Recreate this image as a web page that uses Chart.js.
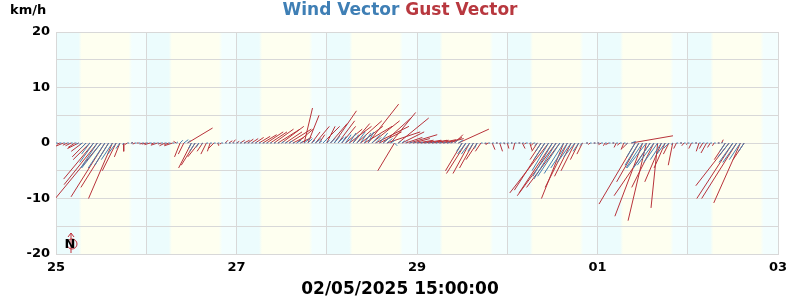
<!DOCTYPE html>
<html>
<head>
<meta charset="utf-8">
<script src="https://cdn.jsdelivr.net/npm/chart.js@4"></script>
<style>
  body { margin: 0; background: #fff; }
  canvas { display: block; }
</style>
</head>
<body>
<canvas id="windChart" width="800" height="300"></canvas>
<script>
// hourly samples starting 25/04 00:00, vector components in km/h
const dayLabels = ['25', '26', '27', '28', '29', '30', '01', '02', '03'];
const yTicks = [-20, -10, 0, 10, 20];
const sunriseHour = 6.4;
const sunsetHour = 19.7;

const windU = [
  0.3, 0.3, 0.3, 0.3, 0.3, 0.3, -0.3, -0.5, -1, -1.5, -2.5, -3, -3.5, -3, -2.5, -2, -1.5, -0.7, -0.2, 0.3, 0.3, 0.3, 0.3, 0.3,
  0.3, 0.3, 0.3, 0.3, 0.3, 0.3, 0.3, 0.3, 0.3, 0.5, 0.8, 0.5, -0.5, -1, -0.5, -0.3, 0.3, 0.3, 0.3, 0.3, 0.3, 0.3, 0.3, 0.3,
  0.3, 0.3, 0.3, 0.3, 0.3, 0.3, 0.3, 0.3, 0.3, 0.3, 0.3, 0.3, 0.5, 0.4, 0.6, 0.3, 0.8, 0.5, 1, 0.8, 0.6, 1, 0.5, 0.8,
  0.5, 0.8, 1, 1, 0.8, 1, 1.2, 1, 1.5, 1, 1.2, 1, 1.5, 1, 1.5, 1.2, 1, 0.8, 0.5, 0.5, 0.5, 0.3, 0.5, 0.4,
  0.4, 0.4, 0.4, 0.4, 0.4, 0.4, 0.4, 0.4, 0.4, 0.3, 0.5, 0.8, -1, -1.5, -1.5, -1, -0.5, 0.3, 0.3, 0.3, 0.3, 0.3, 0.3, 0.3,
  0.3, 0.3, 0.3, 0.3, 0.3, 0.3, 0.3, 0.3, -0.5, -1, -2, -3, -3.5, -4, -4, -3.5, -3, -2.5, -2, -1, -0.5, 0.3, 0.3, 0.3,
  0.3, 0.3, 0.3, 0.3, 0.3, 0.3, 0.3, 0.3, -0.3, 0.8, -1.5, -2.5, -3, -3.5, -3, -3, -2.5, -2, -1.5, -1, -0.3, 0.3, 0.3, 0.3,
  0.3, 0.3, 0.3, 0.3, 0.3, 0.3, 0.3, 0.3, 0.3, 0.2, -1, -2, -2.5, -2.5, -2, -1
];
const windV = [
  0, 0, 0, 0, 0, 0, -0.2, -0.3, -1, -2, -3.5, -4.5, -4.5, -4.5, -4, -3, -2, -1, -0.3, 0, 0, 0, 0, 0,
  0, 0, 0, 0, 0, 0, 0, 0, 0.2, 0.5, 0.6, 0.5, -1, -1.5, -0.8, -0.3, 0, 0, 0, 0, 0, 0, 0, 0,
  0.05, 0.05, 0.05, 0.05, 0.05, 0.05, 0.05, 0.05, 0.05, 0.05, 0.05, 0.05, 0.3, 0.2, 0.4, 0.1, 0.5, 0.3, 0.8, 0.8, 0.5, 0.8, 0.4, 0.8,
  0.5, 0.8, 1.2, 1, 1.2, 1.5, 1.8, 1.5, 2, 1.5, 1.8, 2, 1.5, 1, 1.8, 1, 0.8, 0.5, -0.5, 0.3, 0.4, 0.3, 0.2, 0.2,
  0.1, 0.1, 0.1, 0.1, 0.1, 0.1, 0.1, 0.1, 0.1, 0.2, 0.5, 0.5, -1.5, -2, -2, -1.5, -1, 0, 0, 0, 0, 0, 0, 0,
  0, 0, 0, 0, 0, 0, 0, 0, -0.5, -1.5, -3, -5, -6, -6.5, -6, -5.5, -4.5, -3.5, -2.5, -1.5, -0.5, 0, 0, 0,
  0, 0, 0, 0, 0, 0, 0, 0, -0.3, 0.3, -2.5, -4, -4.5, -4.5, -4.5, -4, -3.5, -3, -2, -1, -0.3, 0, 0, 0,
  0, 0, 0, 0, 0, 0, 0, 0, 0, 0.1, -1.5, -2.5, -3.5, -3.5, -3, -1.5
];
const gustU = [
  -1, -0.5, -1.5, -0.8, -1, -1.2, -2, -2, -2.5, -3, -5.4, -6, -8.5, -6.1, -5, -4.3, -2.5, -1, 0, -0.5, 0.3, -0.4, -0.3, -0.5,
  -0.8, -1, -0.5, -1.2, -0.6, -1, -0.8, -1.5, -0.5, -1, -1, 4.5, -2.3, -2.5, -2, -1, -1, -0.5, -1, 0.2, -0.3, 0.5, 0.6, 0.5,
  0.5, 0.8, 1, 1, 1.2, 1.5, 2, 2.5, 3, 3, 3.5, 4, 4, 3, 4, 2, 3, 2, 1.5, 2, 1.5, 2.5, 1, 3,
  1.5, 3, 4, 3, 2.5, 3, 4, 3, 4.5, 4, 5, 5.5, 5, 6, 4, 5, 6, 4.5, -3, 5.5, 4, 3, 5, 3,
  3, 2, 3, 2.5, 3, 2, 3, 2.5, 3, 2, 1.5, 5.5, -3, -3.5, -3, -2.5, -2, -1, 0.3, -0.5, 0.5, 0.3, 0.5, 0.3,
  0.3, 0.2, -0.3, 0.3, 0.5, -0.3, 0.4, -0.5, -1, -2, -5.5, -7, -6, -7, -6, -4, -4, -3, -2.5, -1.5, -1, 0.3, -0.3, 0.3,
  0.3, -0.5, -0.3, -0.6, 0.3, -0.4, -0.5, -0.5, -1, 7.5, -6.5, -4, -5, -3.3, -6.5, -4, -1.2, -3, -2, -1, -0.8, -0.5, 0.3, -0.4,
  -0.3, -0.5, 0.3, -0.5, -0.6, -1, -0.5, -0.3, 0.3, 0.3, -2, -6, -6.5, -6.3, -4.8, -2
];
const gustV = [
  -0.3, -0.2, -0.6, -0.4, -0.5, -0.8, -1, -1.5, -2.5, -3, -6.5, -7.5, -10.3, -9.7, -8, -10, -5, -2.5, -1.5, -0.3, 0.1, -0.2, 0, -0.2,
  -0.2, -0.3, -0.2, -0.4, -0.2, -0.5, -0.3, -0.5, 0.3, -2.5, -2, 2.7, -4.5, -4, -2.5, -1.5, -2, -1.5, -1, -0.5, -0.2, 0.5, 0.4, 0.6,
  0.3, 0.5, 0.5, 0.7, 0.8, 1, 1.2, 1.5, 2, 2, 2.5, 2.5, 3, 2, 2.5, 1, 2.5, 1, 6.3, 5, 2, 3, 1.5, 3,
  3, 3.5, 5.8, 4, 3, 2.5, 3, 3.5, 4, 3, 3, 7, 4, 3, 2, 4.5, 2, 5.5, -5, 4.5, 2, 1, 1.5, 0.8,
  0.5, 0.3, 0.5, 0.4, 0.5, 0.5, 0.6, 0.5, 0.8, 1, 1.5, 2.5, -5, -5.5, -5.5, -4.5, -3, -1.5, -0.3, -0.2, -1.2, 0, -1.5, -0.2,
  -1, 0, -1.2, 0, -1, -0.2, -1.3, -0.5, -1.5, -3, -8.5, -9, -9, -9.5, -8, -10, -8, -6, -5, -3, -2, 0, -0.3, 0,
  0, -0.3, -0.5, -0.3, 0, -0.8, -0.4, -1.2, -1, 1.3, -11, -7, -13.2, -14, -9.5, -8, -11.7, -7, -4.5, -2, -4, -1, 0, -0.5,
  -0.3, -1, 0, -1.5, -1, -1.8, -0.8, -0.5, 0, 0.6, -3, -7.7, -10, -10, -10.8, -3
];

const PLOT_W = 722, PLOT_H = 222, SPAN_H = 192, SPAN_Y = 40;
// hours of x-axis per km/h so that vectors keep true angles on screen
const K = (PLOT_H / SPAN_Y) / (PLOT_W / SPAN_H);

function vectorPoints(u, v) {
  const pts = [];
  u.forEach((du, i) => {
    pts.push({ x: i, y: 0 }, { x: i + du * K, y: v[i] }, { x: i, y: null });
  });
  return pts;
}

const FONT = 'DejaVu Sans';
const NIGHT = '#ecfcfd', EVENING = '#f3fefe', DAY = '#fefff0';

const background = {
  id: 'background',
  beforeDraw(chart) {
    const { ctx, chartArea: a, scales: { x } } = chart;
    ctx.save();
    ctx.fillStyle = '#fff';
    ctx.fillRect(0, 0, chart.width, chart.height);
    const g = ctx.createLinearGradient(a.left, 0, a.right, 0);
    const pos = h => Math.min(1, Math.max(0, (x.getPixelForValue(h) - a.left) / (a.right - a.left)));
    for (let d = 0; d < dayLabels.length - 1; d++) {
      const b = d * 24;
      g.addColorStop(pos(b + 0.01), NIGHT);
      g.addColorStop(pos(b + sunriseHour - 0.4), NIGHT);
      g.addColorStop(pos(b + sunriseHour + 0.4), DAY);
      g.addColorStop(pos(b + sunsetHour - 0.4), DAY);
      g.addColorStop(pos(b + sunsetHour + 0.5), EVENING);
      g.addColorStop(pos(b + 23.99), EVENING);
    }
    ctx.fillStyle = g;
    ctx.fillRect(a.left, a.top, a.right - a.left, a.bottom - a.top);
    ctx.restore();
  }
};

const labels = {
  id: 'labels',
  afterDraw(chart) {
    const { ctx, chartArea: a } = chart;
    ctx.save();
    ctx.fillStyle = '#000';
    ctx.font = 'bold 13px ' + FONT;
    ctx.textAlign = 'left';
    ctx.textBaseline = 'middle';
    ctx.fillText('km/h', 10, 11);

    // two-colour title
    ctx.font = 'bold 17px ' + FONT;
    const t1 = 'Wind Vector', t2 = 'Gust Vector';
    const w1 = ctx.measureText(t1 + ' ').width, w2 = ctx.measureText(t2).width;
    let sx = 400 - (w1 + w2) / 2;
    ctx.fillStyle = '#3f7fb5';
    ctx.fillText(t1, sx, 11);
    ctx.fillStyle = '#b8383f';
    ctx.fillText(t2, sx + w1, 11);

    ctx.fillStyle = '#000';
    ctx.textAlign = 'center';
    ctx.font = 'bold 17px ' + FONT;
    ctx.fillText('02/05/2025 15:00:00', 400, 290);

    // north arrow
    const cx = a.left + 15, cy = a.bottom - 10;
    ctx.strokeStyle = '#c0303a';
    ctx.lineWidth = 1;
    ctx.beginPath();
    ctx.moveTo(cx, cy + 9);
    ctx.lineTo(cx, cy - 11);
    ctx.moveTo(cx - 3, cy - 7);
    ctx.lineTo(cx, cy - 11);
    ctx.lineTo(cx + 3, cy - 7);
    ctx.stroke();
    ctx.beginPath();
    ctx.arc(cx + 1, cy, 5, 0, Math.PI * 2);
    ctx.stroke();
    ctx.fillStyle = '#000';
    ctx.font = 'bold 13px ' + FONT;
    ctx.fillText('N', cx - 1, cy + 1);
    ctx.restore();
  }
};

new Chart(document.getElementById('windChart'), {
  type: 'line',
  data: {
    datasets: [
      {
        label: 'Wind Vector',
        data: vectorPoints(windU, windV),
        borderColor: '#4682b4',
        borderWidth: 1,
        pointRadius: 0,
        spanGaps: false,
        order: 0
      },
      {
        label: 'Gust Vector',
        data: vectorPoints(gustU, gustV),
        borderColor: '#b8333b',
        borderWidth: 1,
        pointRadius: 0,
        spanGaps: false,
        order: 1
      }
    ]
  },
  options: {
    responsive: false,
    animation: false,
    devicePixelRatio: 1,
    layout: { padding: { top: 32, right: 22, left: 0, bottom: 0 } },
    plugins: { legend: { display: false }, tooltip: { enabled: false } },
    scales: {
      x: {
        type: 'linear',
        min: 0,
        max: SPAN_H,
        afterFit: s => { s.height = 46; },
        afterBuildTicks: s => { s.ticks = dayLabels.map((_, i) => ({ value: i * 24 })); },
        ticks: {
          autoSkip: false,
          maxRotation: 0,
          padding: 6,
          color: '#000',
          font: { family: FONT, size: 13, weight: 'bold' },
          callback: v => (v / 24) % 2 === 0 ? dayLabels[v / 24] : ''
        },
        grid: { color: '#d8d8d8', drawTicks: false },
        border: { color: '#d8d8d8' }
      },
      y: {
        min: -20,
        max: 20,
        afterFit: s => { s.width = 56; },
        ticks: {
          stepSize: 5,
          padding: 6,
          color: '#000',
          font: { family: FONT, size: 13, weight: 'bold' },
          callback: v => yTicks.includes(v) ? v : ''
        },
        grid: { color: '#d8d8d8', drawTicks: false },
        border: { color: '#d8d8d8' }
      }
    }
  },
  plugins: [background, labels]
});
</script>
</body>
</html>
